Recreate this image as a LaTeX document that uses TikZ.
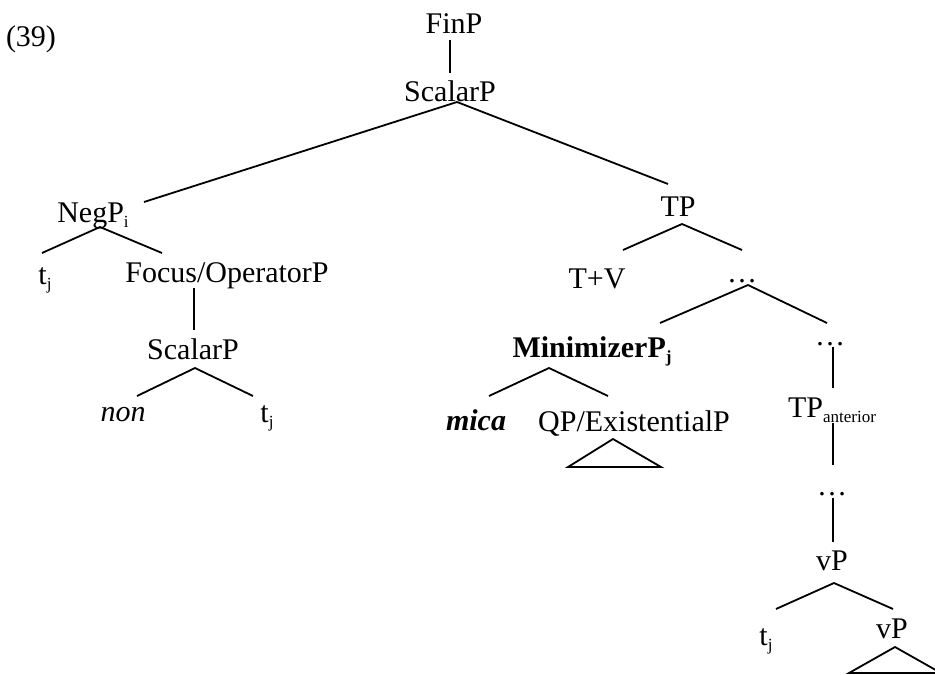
\documentclass[tikz,border=0pt]{standalone}
\usepackage{fontspec}
\setmainfont{Liberation Serif}
\usetikzlibrary{calc}

% lowered, smaller index letters (NegP_i, t_j, ...)
\newcommand\lsub[1]{\raisebox{-5pt}{\fontsize{17}{20}\selectfont #1}}

\begin{document}
\begin{tikzpicture}[x=1pt, y=-1pt, line width=1.8pt,
    every node/.style={inner sep=0pt, anchor=base, font=\fontsize{30}{36}\selectfont}]

        \useasboundingbox (0,0) rectangle (935,675);

        % example number
        \node (ex) at (31,46) {(39)};

        % the labels, row by row
        \node (finp) at (454,33) {FinP};
        \node (scalarA) at (450,101) {ScalarP};
        \node (negp) at (93,222) {NegP\lsub{i}};
        \node (tp) at (678,216) {TP};
        \node (tjA) at (45,284) {t\lsub{j}};
        \node (focus) at (227,282) {Focus/OperatorP};
        \node (tv) at (597,288) {T+V};
        \node (dotsA) at (742,282) {\ldots};
        \node (scalarB) at (193,359) {ScalarP};
        \node (minim) at (592,357) {\textbf{MinimizerP\lsub{j}}};
        \node (dotsB) at (830,345) {\ldots};
        \node (non) at (123,421) {\textit{non}};
        \node (tjB) at (267,422) {t\lsub{j}};
        \node (mica) at (476,430) {\textbf{\textit{mica}}};
        \node (qp) at (634,431) {QP/ExistentialP};
        \node (tpant) at (832,417) {TP\lsub{anterior}};
        \node (dotsC) at (832,495) {\ldots};
        \node (vpA) at (832,570) {vP};
        \node (tjC) at (766,645) {t\lsub{j}};
        \node (vpB) at (892,638) {vP};

        % branches of the upper part
        \draw ($(finp.base)+(-4,7)$) -- ($(scalarA.base)+(0,-28)$);
        \draw ($(scalarA.base)+(7,1)$) -- ($(negp.base)+(51,-20)$);
        \draw ($(scalarA.base)+(7,1)$) -- ($(tp.base)+(-10,-32)$);

        % left part: NegP
        \draw ($(negp.base)+(7,5)$) -- ($(tjA.base)+(-3,-31)$);
        \draw ($(negp.base)+(7,5)$) -- ($(focus.base)+(-65,-29)$);
        \draw ($(focus.base)+(-33,6)$) -- ($(scalarB.base)+(1,-29)$);
        \draw ($(scalarB.base)+(2,9)$) -- ($(non.base)+(14,-25)$);
        \draw ($(scalarB.base)+(2,9)$) -- ($(tjB.base)+(-14,-26)$);

        % right part: TP
        \draw ($(tp.base)+(4,8)$) -- ($(tv.base)+(26,-38)$);
        \draw ($(tp.base)+(4,8)$) -- ($(dotsA.base)+(0,-32)$);
        \draw ($(dotsA.base)+(6,3)$) -- ($(minim.base)+(68,-34)$);
        \draw ($(dotsA.base)+(6,3)$) -- ($(dotsB.base)+(-3,-22)$);
        \draw ($(minim.base)+(-43,11)$) -- ($(mica.base)+(13,-34)$);
        \draw ($(minim.base)+(-43,11)$) -- ($(qp.base)+(-26,-35)$);
        \draw ($(qp.base)+(-21,8)$) -- ($(qp.base)+(-66,36)$) -- ($(qp.base)+(27,36)$) -- cycle;

        % the spine down to vP
        \draw ($(dotsB.base)+(3,2)$) -- ($(tpant.base)+(1,-29)$);
        \draw ($(tpant.base)+(1,6)$) -- ($(dotsC.base)+(1,-30)$);
        \draw ($(dotsC.base)+(1,3)$) -- ($(vpA.base)+(1,-28)$);
        \draw ($(vpA.base)+(2,13)$) -- ($(tjC.base)+(10,-36)$);
        \draw ($(vpA.base)+(2,13)$) -- ($(vpB.base)+(1,-29)$);
        \draw ($(vpB.base)+(3,9)$) -- ($(vpB.base)+(-43,35)$) -- ($(vpB.base)+(49,35)$) -- cycle;

\end{tikzpicture}
\end{document}
